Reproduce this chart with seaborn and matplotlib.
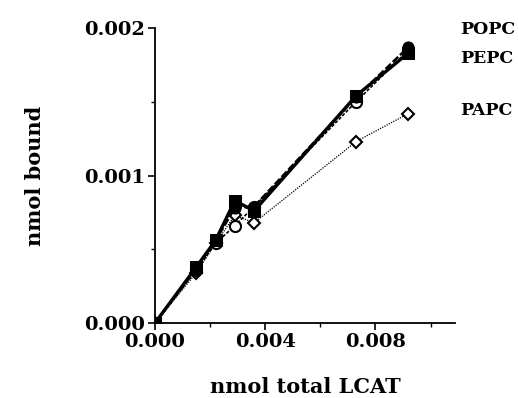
import matplotlib
matplotlib.use("Agg")
import matplotlib.pyplot as plt
import seaborn as sns
import pandas as pd
from matplotlib.ticker import MultipleLocator

# nmol total LCAT
lcat = [0.0, 0.0015, 0.0022, 0.0029, 0.0036, 0.0073, 0.0092]

# nmol bound per substrate
popc = [0.0, 0.00037, 0.00056, 0.00078, 0.00079, 0.00153, 0.00187]
pepc = [0.0, 0.00038, 0.00056, 0.00083, 0.00076, 0.00154, 0.00183]
open_circ = [0.0, 0.00036, 0.00054, 0.00066, 0.00079, 0.00150, 0.00185]
papc = [0.0, 0.00034, 0.00054, 0.00073, 0.00068, 0.00123, 0.00142]

labels = ['POPC', 'PEPC', 'PAPC']
label_y = [0.00199, 0.00179, 0.00144]

sns.set_style('ticks', {'text.color': 'black', 'axes.edgecolor': 'black',
                        'xtick.color': 'black', 'ytick.color': 'black',
                        'axes.labelcolor': 'black'})
plt.rcParams['font.family'] = ['DejaVu Serif', 'Liberation Serif']
plt.rcParams['font.weight'] = 'bold'

fig = plt.figure(figsize=(5.18, 3.98), dpi=100)
ax = fig.add_axes([0.299, 0.188, 0.58, 0.742])

df = pd.DataFrame({'x': lcat, 'popc': popc, 'pepc': pepc, 'oc': open_circ, 'papc': papc})

sns.lineplot(data=df, x='x', y='papc', ax=ax, color='black', lw=0.9, ls=(0, (1, 1)),
             marker='D', markersize=6, markerfacecolor='white', markeredgecolor='black',
             markeredgewidth=1.5)
sns.lineplot(data=df, x='x', y='oc', ax=ax, color='black', lw=1.2, ls=(0, (2, 1)),
             marker='o', markersize=8, markerfacecolor='white', markeredgecolor='black',
             markeredgewidth=1.5)
sns.lineplot(data=df, x='x', y='popc', ax=ax, color='black', lw=1.8, ls=(0, (3, 1)),
             marker='o', markersize=8, markerfacecolor='black', markeredgecolor='black')
sns.lineplot(data=df, x='x', y='pepc', ax=ax, color='black', lw=2.4,
             marker='s', markersize=8.5, markerfacecolor='black', markeredgecolor='black')

for lab, yy in zip(labels, label_y):
    ax.text(0.01107, yy, lab, fontsize=12.5, fontweight='bold', ha='left', va='center',
            color='black', clip_on=False)

ax.set_xlim(0, 0.0109)
ax.set_ylim(0, 0.002)
ax.set_xticks([0.0, 0.004, 0.008])
ax.set_xticklabels(['0.000', '0.004', '0.008'])
ax.set_yticks([0.0, 0.001, 0.002])
ax.set_yticklabels(['0.000', '0.001', '0.002'])
ax.xaxis.set_minor_locator(MultipleLocator(0.002))
ax.yaxis.set_minor_locator(MultipleLocator(0.0005))
ax.tick_params(axis='both', which='major', length=5, width=1.2, labelsize=14, pad=2)
ax.tick_params(axis='both', which='minor', length=3, width=1.0)
for lab in ax.get_xticklabels() + ax.get_yticklabels():
    lab.set_fontweight('bold')

ax.set_xlabel('nmol total LCAT', fontsize=15, fontweight='bold', labelpad=19)
ax.set_ylabel('nmol bound', fontsize=15, fontweight='bold', labelpad=28)
sns.despine(ax=ax)
for s in ['left', 'bottom']:
    ax.spines[s].set_linewidth(1.3)

fig.savefig('out.png', dpi=100)
